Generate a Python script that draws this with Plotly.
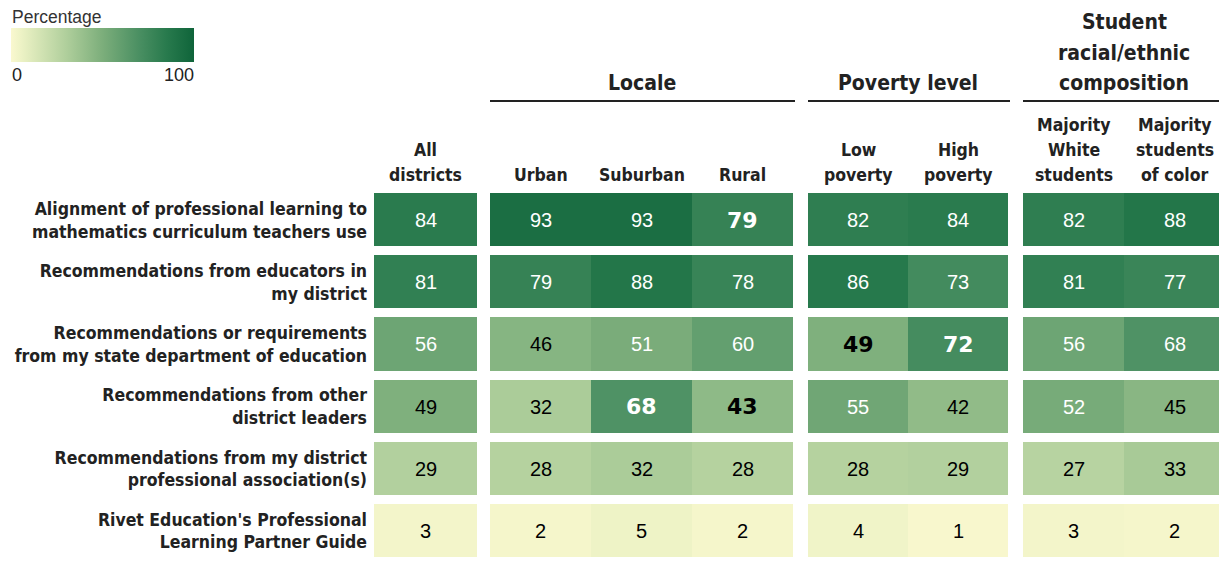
import plotly.graph_objects as go

# ---------------- data ----------------
row_labels = [
    "Alignment of professional learning to<br>mathematics curriculum teachers use",
    "Recommendations from educators in<br>my district",
    "Recommendations or requirements<br>from my state department of education",
    "Recommendations from other<br>district leaders",
    "Recommendations from my district<br>professional association(s)",
    "Rivet Education's Professional<br>Learning Partner Guide",
]

group_titles = ["", "Locale", "Poverty level", "Student<br>racial/ethnic<br>composition"]

col_all = ["All<br>districts"]
col_locale = ["Urban", "Suburban", "Rural"]
col_poverty = ["Low<br>poverty", "High<br>poverty"]
col_race = ["Majority<br>White<br>students", "Majority<br>students<br>of color"]

all_districts = [84, 81, 56, 49, 29, 3]
urban = [93, 79, 46, 32, 28, 2]
suburban = [93, 88, 51, 68, 32, 5]
rural = [79, 78, 60, 43, 28, 2]
low_poverty = [82, 86, 49, 55, 28, 4]
high_poverty = [84, 73, 72, 42, 29, 1]
majority_white = [82, 81, 56, 52, 27, 3]
majority_color = [88, 77, 68, 45, 33, 2]

# highlighted (statistically notable) cells: (column label, row index)
bold_cells = [("Rural", 0), ("Low<br>poverty", 2), ("High<br>poverty", 2),
              ("Suburban", 3), ("Rural", 3)]

colorbar_ticks = [0, 100]
colorbar_ticktext = ["0", "100"]
colorbar_title = "Percentage"

groups = [
    (col_all, [all_districts]),
    (col_locale, [urban, suburban, rural]),
    (col_poverty, [low_poverty, high_poverty]),
    (col_race, [majority_white, majority_color]),
]

# ---------------- layout geometry (screen pixels) ----------------
OFF = 8                      # default page body margin
SW, SH = 1227, 562
W, H = SW - OFF, SH - OFF    # figure size so that it fits the window
MT_S = 189                   # top of plot area on screen
MT = MT_S - OFF
PH = H - MT
x_domains_px = [(374, 477), (490, 793), (808, 1008), (1023, 1225)]


def px_x(p):
    return (p - OFF) / W


def px_y(p):
    return (H - (p - OFF)) / PH


colorscale = [
    [0.0, "#faf8cf"],
    [0.05, "#eef3c6"],
    [0.30, "#b0cf9c"],
    [0.50, "#7cae7b"],
    [0.70, "#4a8f62"],
    [0.85, "#287a4d"],
    [1.0, "#0f643a"],
]

TEXT = "#222222"
HEAD_FONT = "DejaVu Sans Condensed, Liberation Sans Narrow, Arial Narrow, Liberation Sans, sans-serif"
BODY_FONT = "Liberation Sans, Arial, Helvetica, sans-serif"

fig = go.Figure()
annotations = []
shapes = []

for gi, (cols, series) in enumerate(groups):
    xa = "x" if gi == 0 else f"x{gi + 1}"
    z = [[series[c][r] for c in range(len(cols))] for r in range(len(row_labels))]
    fig.add_trace(go.Heatmap(
        z=z, x=cols, y=row_labels, xaxis=xa, yaxis="y",
        coloraxis="coloraxis", xgap=0, ygap=9, hoverinfo="skip",
    ))
    for c, col in enumerate(cols):
        for r in range(len(row_labels)):
            v = series[c][r]
            bold = (col, r) in bold_cells
            annotations.append(dict(
                x=col, y=row_labels[r], xref=xa, yref="y",
                xanchor="center", yanchor="middle",
                text=str(v), showarrow=False,
                font=dict(
                    family=(BODY_FONT if not bold
                            else "DejaVu Sans, Arial Black, sans-serif"),
                    size=22 if bold else 20,
                    weight=900 if bold else 400,
                    color="white" if v >= 50 else "black",
                ),
            ))
        # column header, one annotation per line (bottom line centred at y=174)
        for k, line in enumerate(reversed(col.split("<br>"))):
            annotations.append(dict(
                x=col, xref=xa, y=px_y(175 - 25 * k), yref="paper",
                xanchor="center", yanchor="middle",
                text=f"<b>{line}</b>", showarrow=False,
                font=dict(family=HEAD_FONT, size=17.5, color=TEXT),
            ))
    # group header + underline
    if group_titles[gi]:
        x0, x1 = x_domains_px[gi]
        for k, line in enumerate(reversed(group_titles[gi].split("<br>"))):
            annotations.append(dict(
                x=px_x((x0 + x1) / 2), xref="paper", y=px_y(83 - 30.5 * k),
                yref="paper", xanchor="center", yanchor="middle",
                text=f"<b>{line}</b>", showarrow=False,
                font=dict(family=HEAD_FONT, size=21, color=TEXT),
            ))
        shapes.append(dict(
            type="line", xref="paper", yref="paper",
            x0=px_x(x0), x1=px_x(x1 + 2), y0=px_y(101), y1=px_y(101),
            line=dict(color=TEXT, width=2),
        ))

# colour legend title and end labels
annotations.append(dict(
    x=px_x(10), y=px_y(17), xref="paper", yref="paper", xanchor="left",
    yanchor="middle", text=colorbar_title, showarrow=False,
    font=dict(family=BODY_FONT, size=17.5, color="#333333"),
))
annotations.append(dict(
    x=px_x(10), y=px_y(75), xref="paper", yref="paper", xanchor="left",
    yanchor="middle", text=colorbar_ticktext[0], showarrow=False,
    font=dict(family=BODY_FONT, size=18, color=TEXT),
))
annotations.append(dict(
    x=px_x(196), y=px_y(75), xref="paper", yref="paper", xanchor="right",
    yanchor="middle", text=colorbar_ticktext[1], showarrow=False,
    font=dict(family=BODY_FONT, size=18, color=TEXT),
))

layout = dict(
    width=W, height=H,
    margin=dict(l=0, r=0, t=MT, b=0, autoexpand=False),
    paper_bgcolor="white", plot_bgcolor="white",
    showlegend=False,
    annotations=annotations, shapes=shapes,
    coloraxis=dict(
        colorscale=colorscale, cmin=0, cmax=100,
        colorbar=dict(
            orientation="h", xref="container", yref="container",
            x=(11 - OFF) / W, xanchor="left",
            y=1 - (28 - OFF) / H, yanchor="top",
            len=183, lenmode="pixels", thickness=34,
            xpad=0, ypad=0, outlinewidth=0,
            tickvals=colorbar_ticks, ticks="", showticklabels=False,
        ),
    ),
    yaxis=dict(
        autorange="reversed", showgrid=False, zeroline=False, ticks="",
        ticklabelstandoff=6, anchor="x", domain=[0, 1], automargin=False,
        tickfont=dict(family=HEAD_FONT, size=17.5, color=TEXT, weight="bold"),
    ),
)
for gi in range(4):
    key = "xaxis" if gi == 0 else f"xaxis{gi + 1}"
    x0, x1 = x_domains_px[gi]
    layout[key] = dict(domain=[px_x(x0), px_x(x1)], anchor="y", visible=False,
                       showgrid=False, zeroline=False, automargin=False)

fig.update_layout(**layout)
fig.write_html("out.html")
